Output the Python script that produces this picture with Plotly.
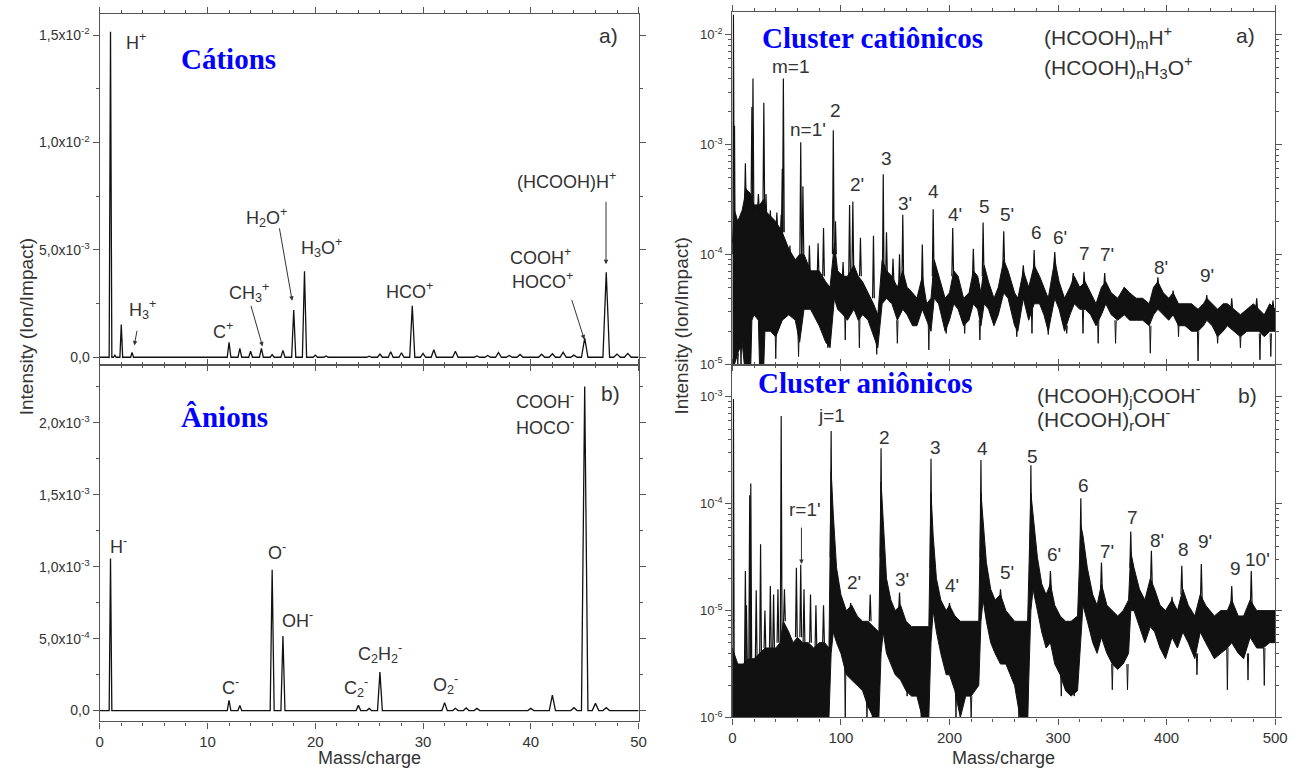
import plotly.graph_objects as go

W, H = 1299, 773
INK = "#111111"
TXT = "#333333"
FRAME = "#555555"
SANS = "Liberation Sans, Arial, sans-serif"
SERIF = "Liberation Serif, Times New Roman, serif"
BLUE = "#0000FF"

# ---------------- Cations, m/z 0-50 (linear) ----------------
cat_mass = [1, 1.4, 2, 3, 12, 13, 14, 15, 16, 17, 18, 19, 20, 21, 25, 26, 27, 28, 29, 30,
            31, 33, 35, 36, 37, 38, 39, 41, 42, 43, 44, 45, 47, 48, 49]
cat_int = [1.516e-2, 1.0e-4, 1.52e-3, 2.3e-4, 6.9e-4, 4.1e-4, 2.8e-4, 4.1e-4, 1.2e-4, 3.2e-4,
           2.2e-3, 4.0e-3, 1.0e-4, 6e-5, 5e-5, 1.5e-4, 2.6e-4, 2.1e-4, 2.4e-3, 1.8e-4,
           3.5e-4, 2.8e-4, 6e-5, 8e-5, 2.2e-4, 8e-5, 1.3e-4, 1.4e-4, 1.6e-4, 2.3e-4,
           1.0e-4, 8.9e-4, 3.96e-3, 1.5e-4, 1.8e-4]

# ---------------- Anions, m/z 0-50 (linear) ----------------
an_mass = [1, 12, 13, 16, 17, 24, 25, 26, 32, 33, 34, 35, 40, 42, 44, 45, 46, 47]
an_int = [1.057e-3, 7.1e-5, 3.6e-5, 9.79e-4, 5.18e-4, 3.6e-5, 1.5e-5, 2.68e-4, 5.5e-5, 1.6e-5,
          1.8e-5, 1.5e-5, 1.5e-5, 1.08e-4, 2.0e-5, 2.251e-3, 5.0e-5, 2.0e-5]

# ---------------- Cationic clusters, m/z 0-500 (log10 intensity) ----------------
# noise band: lower / upper edge of the dense trace
ccl_band_mass = [0, 2, 5, 9, 11, 12, 17, 18, 20, 24, 25, 29, 30, 35, 40, 46, 52, 58, 62, 66,
                 72, 80, 86, 90, 94, 97, 102, 106, 112, 116, 120, 125, 130, 134, 138, 142, 147,
                 152, 157, 161, 166, 170, 175, 179, 183, 186, 190, 196, 200, 204, 208, 213, 218,
                 222, 226, 229, 232, 236, 241, 245, 250, 254, 260, 263, 268, 273, 278, 283, 287,
                 291, 297, 301, 306, 311, 315, 320, 325, 330, 335, 340, 344, 349, 355, 361, 366,
                 372, 378, 384, 388, 392, 397, 402, 406, 411, 417, 423, 429, 434, 437, 442, 447,
                 452, 456, 462, 468, 474, 480, 485, 490, 495, 500]
ccl_band_lo = [-5.0, -5.0, -4.9, -4.8, -5.0, -5.0, -5.0, -4.6, -4.55, -4.6, -5.0, -5.0, -4.7,
               -4.7, -4.75, -4.6, -4.55, -4.6, -4.8, -4.5, -4.5, -4.65, -4.8, -4.85, -4.4, -4.5,
               -4.55, -4.6, -4.5, -4.6, -4.55, -4.6, -4.75, -4.85, -4.45, -4.4, -4.45, -4.6,
               -4.5, -4.55, -4.65, -4.65, -4.5, -4.6, -4.7, -4.4, -4.45, -4.7, -4.6, -4.45,
               -4.5, -4.65, -4.6, -4.45, -4.5, -4.65, -4.45, -4.5, -4.65, -4.55, -4.35, -4.4,
               -4.65, -4.7, -4.4, -4.6, -4.45, -4.45, -4.55, -4.7, -4.4, -4.5, -4.7, -4.55,
               -4.45, -4.5, -4.5, -4.55, -4.65, -4.55, -4.45, -4.55, -4.6, -4.55, -4.6, -4.6,
               -4.6, -4.65, -4.55, -4.5, -4.55, -4.6, -4.55, -4.65, -4.65, -4.7, -4.7, -4.65,
               -4.6, -4.65, -4.75, -4.7, -4.65, -4.7, -4.75, -4.7, -4.7, -4.7, -4.75, -4.7, -4.7]
ccl_band_hi = [-3.9, -3.6, -3.7, -3.6, -3.5, -3.4, -3.45, -3.5, -3.55, -3.55, -3.55, -3.5, -3.6,
               -3.65, -3.7, -3.8, -3.95, -4.05, -4.0, -4.0, -4.15, -4.15, -4.25, -4.3, -3.9,
               -4.15, -4.2, -4.2, -4.1, -4.2, -4.25, -4.35, -4.45, -4.55, -4.05, -4.15, -4.2,
               -4.3, -4.15, -4.3, -4.35, -4.4, -4.2, -4.45, -4.4, -4.05, -4.2, -4.4, -4.35,
               -4.15, -4.2, -4.4, -4.35, -4.15, -4.2, -4.35, -4.1, -4.25, -4.4, -4.3, -4.05,
               -4.15, -4.35, -4.4, -4.15, -4.3, -4.1, -4.2, -4.3, -4.4, -4.05, -4.25, -4.4,
               -4.3, -4.2, -4.3, -4.25, -4.35, -4.45, -4.3, -4.25, -4.35, -4.4, -4.3, -4.35,
               -4.4, -4.4, -4.45, -4.3, -4.25, -4.35, -4.4, -4.35, -4.45, -4.45, -4.45, -4.5,
               -4.45, -4.4, -4.45, -4.5, -4.45, -4.45, -4.5, -4.55, -4.5, -4.45, -4.5, -4.55,
               -4.45, -4.5]
# sharp peaks: position, tip and foot (log10)
ccl_pk_mass = [1, 2, 3, 12, 13, 17, 18, 19, 24, 29, 31, 35, 41, 45, 46, 47, 53, 63, 65, 71,
               79, 84, 93, 95, 102, 108, 111, 118, 130, 139, 142, 148, 154, 157, 175, 185, 203,
               222, 231, 250, 268, 278, 297, 314, 324, 343, 361, 392, 406, 437, 460, 483, 498]
ccl_pk_tip = [-1.82, -2.83, -3.64, -3.17, -3.40, -3.45, -2.66, -2.40, -3.45, -2.62, -3.45,
              -3.60, -3.62, -3.64, -3.22, -2.40, -3.92, -2.98, -3.38, -3.92, -3.90, -3.76,
              -2.87, -3.70, -4.07, -3.55, -3.52, -3.85, -3.83, -3.27, -3.80, -4.04, -4.00,
              -3.64, -3.91, -3.59, -3.76, -3.95, -3.71, -3.79, -4.10, -3.96, -3.98, -4.17,
              -4.16, -4.17, -4.30, -4.21, -4.33, -4.37, -4.40, -4.40, -4.42]
ccl_pk_foot = [-4.0, -4.5, -4.5, -3.6, -3.6, -3.6, -3.6, -3.6, -3.6, -3.6, -3.7, -3.8, -3.8,
               -3.85, -3.8, -3.8, -4.05, -4.0, -4.0, -4.2, -4.2, -4.2, -4.0, -4.0, -4.25, -4.2,
               -4.15, -4.2, -4.4, -4.3, -4.2, -4.25, -4.3, -4.25, -4.3, -4.2, -4.2, -4.2, -4.2,
               -4.1, -4.2, -4.2, -4.1, -4.25, -4.3, -4.3, -4.35, -4.3, -4.4, -4.45, -4.5,
               -4.5, -4.5]
# downward noise spikes
ccl_dip_mass = [5, 8, 40, 61, 88, 104, 117, 133, 152, 181, 197, 214, 228, 262, 276, 291, 308,
                323, 337, 353, 385, 411, 429, 447, 468, 486, 496]
ccl_dip_tip = [-5.0, -5.0, -4.95, -4.93, -4.85, -4.78, -4.85, -4.91, -4.81, -4.87, -4.72,
               -4.72, -4.78, -4.75, -4.72, -4.73, -4.72, -4.72, -4.81, -4.81, -4.90, -4.75,
               -4.97, -4.81, -4.85, -4.96, -4.93]
ccl_dip_foot = [-4.9, -4.8, -4.7, -4.7, -4.7, -4.5, -4.55, -4.75, -4.6, -4.6, -4.65, -4.6,
                -4.6, -4.65, -4.5, -4.65, -4.65, -4.5, -4.6, -4.6, -4.65, -4.6, -4.7, -4.72,
                -4.72, -4.72, -4.72]

# ---------------- Anionic clusters, m/z 0-500 (log10 intensity) ----------------
acl_band_mass = [0, 5, 10, 15, 20, 25, 30, 35, 40, 44, 47, 52, 56, 60, 65, 70, 75, 80, 85, 89,
                 91, 93, 96, 100, 105, 110, 115, 120, 125, 130, 135, 137, 139, 142, 146, 150,
                 155, 160, 165, 170, 175, 181, 183, 185, 188, 192, 197, 200, 205, 210, 215,
                 220, 227, 229, 231, 234, 238, 242, 247, 252, 256, 260, 265, 272, 275, 277,
                 281, 285, 289, 293, 297, 302, 307, 312, 318, 321, 323, 327, 332, 336, 340,
                 345, 350, 355, 360, 365, 367, 370, 375, 380, 385, 389, 394, 399, 405, 410,
                 415, 420, 426, 431, 436, 444, 450, 456, 460, 466, 471, 477, 483, 489, 495, 500]
acl_band_lo = [-6.0, -6.0, -6.0, -6.0, -6.0, -6.0, -6.0, -6.0, -6.0, -6.0, -6.0,
               -6.0, -6.0, -6.0, -6.0, -6.0, -6.0, -6.0, -6.0, -6.0, -5.4, -5.2, -5.3,
               -5.4, -5.6, -5.65, -5.7, -5.75, -5.9, -6.0, -6.0, -5.4, -5.2, -5.4, -5.5, -5.6,
               -5.65, -5.75, -5.8, -5.8, -6.0, -6.0, -5.3, -5.0, -5.2, -5.4, -5.6, -5.6,
               -5.75, -6.0, -5.8, -5.8, -5.7, -5.1, -4.9, -5.1, -5.3, -5.4, -5.5, -5.5, -5.6,
               -5.7, -6.0, -6.0, -5.0, -4.8, -5.0, -5.2, -5.35, -5.3, -5.5, -5.6, -5.75,
               -5.8, -5.75, -5.2, -4.95, -5.1, -5.3, -5.4, -5.25, -5.4, -5.5, -5.55, -5.5,
               -5.4, -5.0, -5.0, -5.15, -5.3, -5.15, -5.2, -5.35, -5.45, -5.25, -5.35, -5.2,
               -5.3, -5.45, -5.2, -5.3, -5.45, -5.4, -5.35, -5.3, -5.4, -5.45, -5.25, -5.35,
               -5.35, -5.3, -5.3]
acl_band_hi = [-5.35, -5.5, -5.5, -5.45, -5.45, -5.4, -5.35, -5.35, -5.35, -5.3, -5.1, -5.2,
               -5.3, -5.25, -5.3, -5.3, -5.35, -5.3, -5.3, -5.35, -3.7, -4.1, -4.6, -4.85, -5.0,
               -4.95, -5.05, -5.1, -5.1, -5.15, -5.2, -3.8, -4.2, -4.7, -4.9, -5.0, -4.95, -5.1,
               -5.15, -5.15, -5.15, -5.15, -3.9, -4.3, -4.7, -4.9, -5.0, -4.95, -5.05, -5.1,
               -5.1, -5.1, -5.1, -3.9, -4.2, -4.55, -4.8, -4.9, -4.85, -5.0, -5.05, -5.1, -5.1,
               -5.1, -3.9, -4.1, -4.5, -4.75, -4.85, -4.75, -4.95, -5.05, -5.1, -5.1, -5.05,
               -4.2, -4.3, -4.6, -4.85, -4.95, -4.75, -4.95, -5.0, -5.05, -5.0, -4.9, -4.45,
               -4.6, -4.8, -4.9, -4.7, -4.8, -4.95, -5.0, -4.9, -5.0, -4.8, -4.95, -5.05, -4.85,
               -4.95, -5.05, -5.0, -5.0, -4.9, -5.05, -5.05, -4.9, -5.0, -5.0, -5.0, -5.0]
acl_pk_mass = [1, 12, 13, 16, 17, 22, 26, 30, 35, 38, 42, 45, 48, 59, 63, 66, 72, 77, 84, 91,
               109, 127, 137, 154, 183, 200, 229, 247, 275, 293, 321, 340, 367, 386, 405, 414,
               432, 460, 478]
acl_pk_tip = [-3.02, -4.63, -4.95, -3.92, -3.81, -4.81, -4.38, -5.0, -4.77, -4.85, -4.8,
              -3.18, -4.8, -4.6, -4.57, -4.8, -4.85, -4.95, -4.95, -3.32, -4.93, -4.85, -3.48,
              -4.83, -3.58, -4.93, -3.59, -4.80, -3.64, -4.63, -3.95, -4.55, -4.26, -4.44,
              -4.87, -4.58, -4.565, -4.77, -4.63]
acl_pk_foot = [-6.0, -5.5, -5.5, -5.45, -5.45, -5.45, -5.4, -5.35, -5.35, -5.35, -5.3, -5.3,
               -5.1, -5.25, -5.25, -5.3, -5.3, -5.35, -5.3, -4.5, -5.0, -5.1, -4.5, -5.0, -4.6,
               -5.0, -4.5, -4.9, -4.5, -4.8, -4.5, -4.8, -4.6, -4.75, -4.95, -4.85, -4.9,
               -4.95, -4.95]
acl_dip_mass = [104, 124, 129, 133, 161, 174, 178, 206, 220, 264, 268, 272, 303, 315, 350,
                364, 428, 456, 475, 490]
acl_dip_tip = [-6.0, -6.0, -6.0, -6.0, -5.8, -6.0, -6.0, -6.0, -6.0, -6.0, -6.0,
               -6.0, -5.8, -5.8, -5.74, -5.74, -5.6, -5.74, -5.65, -5.7]
acl_dip_foot = [-5.5, -5.8, -5.8, -5.9, -5.7, -5.8, -5.8, -5.7, -5.8, -5.7, -5.7, -5.7, -5.6,
                -5.7, -5.5, -5.5, -5.4, -5.35, -5.4, -5.35]

# ---------------- tick labels ----------------
cat_yticks = [0, 5e-3, 1e-2, 1.5e-2]
cat_ytext = ["0,0", "5,0x10<sup>-3</sup>", "1,0x10<sup>-2</sup>", "1,5x10<sup>-2</sup>"]
an_yticks = [0, 5e-4, 1e-3, 1.5e-3, 2e-3]
an_ytext = ["0,0", "5,0x10<sup>-4</sup>", "1,0x10<sup>-3</sup>", "1,5x10<sup>-3</sup>",
            "2,0x10<sup>-3</sup>"]
log_yticks = [1e-6, 1e-5, 1e-4, 1e-3, 1e-2]
log_ytext = ["10<sup>-6</sup>", "10<sup>-5</sup>", "10<sup>-4</sup>", "10<sup>-3</sup>",
             "10<sup>-2</sup>"]
small_xticks = [0, 10, 20, 30, 40, 50]
big_xticks = [0, 100, 200, 300, 400, 500]


def profile(mass, inten, x_end):
    """Narrow triangular peak profile on a flat baseline."""
    xs, ys = [0.0], [0.0]
    for m, h in sorted(zip(mass, inten)):
        hw = 0.12 + 0.004 * m
        xs += [m - hw, m, m + hw]
        ys += [0.0, h, 0.0]
    xs.append(x_end)
    ys.append(0.0)
    return xs, ys


def spikes(mass, tip, foot, hw=0.8):
    xs, ys = [], []
    for m, t, f in zip(mass, tip, foot):
        xs += [m - hw, m, m + hw, None]
        ys += [10 ** f, 10 ** t, 10 ** f, None]
    return xs, ys


fig = go.Figure()

# linear spectra
for (mass, inten, xa, ya) in [(cat_mass, cat_int, "x", "y"), (an_mass, an_int, "x2", "y2")]:
    xs, ys = profile(mass, inten, 50)
    fig.add_trace(go.Scatter(x=xs, y=ys, mode="lines", xaxis=xa, yaxis=ya,
                             line=dict(color=INK, width=1.3), hoverinfo="skip"))

# log spectra: dense noise band, then sharp peaks and downward spikes
for (bm, blo, bhi, pm, pt, pf, dm, dt, df, xa, ya) in [
    (ccl_band_mass, ccl_band_lo, ccl_band_hi, ccl_pk_mass, ccl_pk_tip, ccl_pk_foot,
     ccl_dip_mass, ccl_dip_tip, ccl_dip_foot, "x3", "y3"),
    (acl_band_mass, acl_band_lo, acl_band_hi, acl_pk_mass, acl_pk_tip, acl_pk_foot,
     acl_dip_mass, acl_dip_tip, acl_dip_foot, "x4", "y4"),
]:
    fig.add_trace(go.Scatter(x=bm, y=[10 ** v for v in blo], mode="lines", xaxis=xa, yaxis=ya,
                             line=dict(color=INK, width=1), hoverinfo="skip"))
    fig.add_trace(go.Scatter(x=bm, y=[10 ** v for v in bhi], mode="lines", xaxis=xa, yaxis=ya,
                             line=dict(color=INK, width=1), fill="tonexty", fillcolor=INK,
                             hoverinfo="skip"))
    xs, ys = spikes(pm, pt, pf)
    fig.add_trace(go.Scatter(x=xs, y=ys, mode="lines", xaxis=xa, yaxis=ya,
                             line=dict(color=INK, width=1.2), hoverinfo="skip"))
    xs, ys = spikes(dm, dt, df, hw=0.6)
    fig.add_trace(go.Scatter(x=xs, y=ys, mode="lines", xaxis=xa, yaxis=ya,
                             line=dict(color=INK, width=1), hoverinfo="skip"))


def dom_x(a, b):
    return [a / W, b / W]


def dom_y(top, bottom):
    return [1 - bottom / H, 1 - top / H]


axis_common = dict(showline=True, linecolor=FRAME, linewidth=1.3, mirror="ticks",
                   ticks="outside", ticklen=6, tickwidth=1.1, tickcolor=FRAME,
                   showgrid=False, zeroline=False, fixedrange=True)
minor_common = dict(ticks="outside", ticklen=3, tickwidth=1, tickcolor=FRAME, showgrid=False)

tick_font_x = dict(family=SANS, size=15, color=TXT)
tick_font_y = dict(family=SANS, size=14, color=TXT)
tick_font_log = dict(family=SANS, size=13, color=TXT)

LX = dom_x(97, 643)
RX = dom_x(738, 1288)

log_minor_top = [k * 10 ** e for e in range(-5, -1) for k in range(2, 10) if k * 10 ** e < 10 ** -1.793]
log_minor_bot = [k * 10 ** e for e in range(-6, -2) for k in range(2, 10) if k * 10 ** e < 10 ** -2.713]

fig.update_layout(
    width=W, height=H, margin=dict(l=0, r=0, t=0, b=0),
    paper_bgcolor="white", plot_bgcolor="white", showlegend=False, hovermode=False,
    xaxis=dict(axis_common, domain=LX, range=[0, 50], anchor="y", tickvals=small_xticks,
               showticklabels=False, minor=dict(minor_common, dtick=2, tick0=0)),
    yaxis=dict(axis_common, domain=dom_y(14, 368), range=[-3.23e-4, 0.015991], anchor="x",
               tickvals=cat_yticks, ticktext=cat_ytext, tickfont=tick_font_y,
               minor=dict(minor_common, tickvals=[2.5e-3, 7.5e-3, 1.25e-2])),
    xaxis2=dict(axis_common, domain=LX, range=[0, 50], anchor="y2", tickvals=small_xticks,
                tickfont=tick_font_x, minor=dict(minor_common, dtick=2, tick0=0)),
    yaxis2=dict(axis_common, domain=dom_y(370, 729), range=[-7.57e-5, 2.393e-3], anchor="x2",
                tickvals=an_yticks, ticktext=an_ytext, tickfont=tick_font_y,
                minor=dict(minor_common, tickvals=[2.5e-4, 7.5e-4, 1.25e-3, 1.75e-3, 2.25e-3])),
    xaxis3=dict(axis_common, domain=RX, range=[0, 500], anchor="y3", tickvals=big_xticks,
                showticklabels=False, minor=dict(minor_common, dtick=20, tick0=0)),
    yaxis3=dict(axis_common, type="log", domain=dom_y(12, 368), range=[-5, -1.793], anchor="x3",
                tickvals=log_yticks, ticktext=log_ytext, tickfont=tick_font_log,
                minor=dict(minor_common, tickvals=log_minor_top)),
    xaxis4=dict(axis_common, domain=RX, range=[0, 500], anchor="y4", tickvals=big_xticks,
                tickfont=tick_font_x, minor=dict(minor_common, dtick=20, tick0=0)),
    yaxis4=dict(axis_common, type="log", domain=dom_y(370, 725), range=[-6, -2.713], anchor="x4",
                tickvals=log_yticks, ticktext=log_ytext, tickfont=tick_font_log,
                minor=dict(minor_common, tickvals=log_minor_bot)),
)

ann = []


def label(x, y, text, size=18, color=TXT, family=SANS, xanchor="center", angle=0):
    ann.append(dict(x=x / W, y=1 - y / H, xref="paper", yref="paper", text=text,
                    showarrow=False, xanchor=xanchor, yanchor="middle", textangle=angle,
                    font=dict(family=family, size=size, color=color)))


def arrow(tail, head):
    ann.append(dict(x=head[0] / W, y=1 - head[1] / H, xref="paper", yref="paper", text="",
                    showarrow=True, ax=tail[0] - head[0], ay=tail[1] - head[1],
                    axref="pixel", ayref="pixel", arrowhead=2, arrowsize=0.9,
                    arrowwidth=1, arrowcolor=TXT, standoff=0))


def title(x, y, text):
    label(x, y, f"<b>{text}</b>", size=29, color=BLUE, family=SERIF)


# panel titles
title(227, 60, "Cátions")
title(223, 421, "Ânions")
title(880, 38, "Cluster catiônicos")
title(873, 387, "Cluster aniônicos")

# cations
label(134, 42, "H<sup>+</sup>")
label(140, 313, "H<sub>3</sub><sup>+</sup>")
label(222, 334, "C<sup>+</sup>")
label(248, 296, "CH<sub>3</sub><sup>+</sup>")
label(266, 220, "H<sub>2</sub>O<sup>+</sup>")
label(322, 250, "H<sub>3</sub>O<sup>+</sup>")
label(411, 294, "HCO<sup>+</sup>")
label(544, 259, "COOH<sup>+</sup>")
label(546, 283, "HOCO<sup>+</sup>")
label(570, 182, "(HCOOH)H<sup>+</sup>")
label(613, 36, "a)", size=21)
arrow((135, 333), (132, 349))
arrow((250, 308), (262, 350))
arrow((279, 230), (292, 304))
arrow((610, 203), (610, 267))
arrow((575, 302), (588, 343))

# anions
label(116, 551, "H<sup>-</sup>")
label(229, 694, "C<sup>-</sup>")
label(277, 557, "O<sup>-</sup>")
label(297, 626, "OH<sup>-</sup>")
label(357, 695, "C<sub>2</sub><sup>-</sup>")
label(381, 660, "C<sub>2</sub>H<sub>2</sub><sup>-</sup>")
label(447, 692, "O<sub>2</sub><sup>-</sup>")
label(548, 405, "COOH<sup>-</sup>")
label(548, 431, "HOCO<sup>-</sup>")
label(615, 398, "b)", size=21)

# cationic clusters
label(1052, 38, "(HCOOH)<sub>m</sub>H<sup>+</sup>", size=21, xanchor="left")
label(1052, 68, "(HCOOH)<sub>n</sub>H<sub>3</sub>O<sup>+</sup>", size=21, xanchor="left")
label(1258, 36, "a)", size=21)
for (x, y, t) in [(797, 67, "m=1"), (815, 131, "n=1'"), (843, 112, "2"), (864, 186, "2'"),
                  (894, 160, "3"), (913, 206, "3'"), (942, 194, "4"), (964, 217, "4'"),
                  (994, 209, "5"), (1016, 217, "5'"), (1046, 235, "6"), (1070, 240, "6'"),
                  (1095, 256, "7"), (1118, 257, "7'"), (1172, 270, "8'"), (1219, 278, "9'")]:
    label(x, y, t, size=19)

# anionic clusters
label(1045, 400, "(HCOOH)<sub>j</sub>COOH<sup>-</sup>", size=21, xanchor="left")
label(1045, 424, "(HCOOH)<sub>r</sub>OH<sup>-</sup>", size=21, xanchor="left")
label(1260, 400, "b)", size=21)
for (x, y, t) in [(838, 420, "j=1"), (812, 515, "r=1'"), (892, 442, "2"), (861, 589, "2'"),
                  (944, 452, "3"), (910, 586, "3'"), (991, 453, "4"), (961, 592, "4'"),
                  (1042, 461, "5"), (1016, 578, "5'"), (1094, 491, "6"), (1064, 560, "6'"),
                  (1143, 523, "7"), (1118, 557, "7'"), (1168, 546, "8'"), (1195, 555, "8"),
                  (1217, 547, "9'"), (1248, 574, "9"), (1270, 565, "10'")]:
    label(x, y, t, size=19)
arrow((808, 532), (808, 570))

# axis titles
label(23, 330, "Intensity (Ion/Impact)", size=19, angle=-90)
label(687, 330, "Intensity (Ion/Impact)", size=19, angle=-90)
label(370, 766, "Mass/charge", size=18)
label(1013, 766, "Mass/charge", size=18)

fig.update_layout(annotations=ann)
fig.write_html("out.html")
